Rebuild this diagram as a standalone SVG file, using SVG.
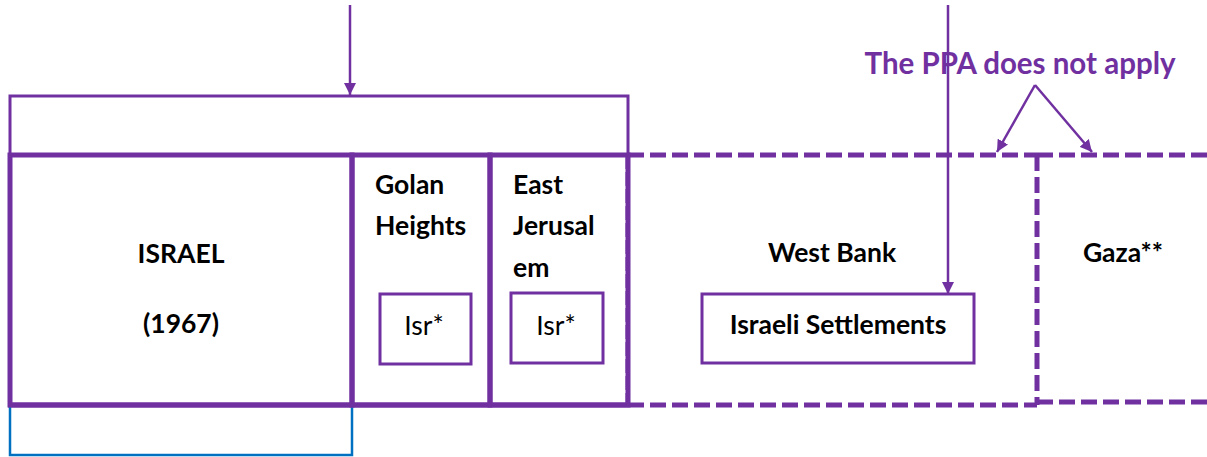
<svg xmlns="http://www.w3.org/2000/svg" width="1207" height="457" viewBox="0 0 1207 457">
  <defs>
    <marker id="arrowhead" markerWidth="12" markerHeight="12" refX="10" refY="5" orient="auto" markerUnits="userSpaceOnUse" viewBox="0 0 10 10">
      <path d="M0,0 L10,5 L0,10 Z" fill="#7030A0"/>
    </marker>
    <style>
      .solid { fill: none; stroke: #7030A0; stroke-width: 5; }
      .thin { fill: none; stroke: #7030A0; stroke-width: 3; }
      .dash { fill: none; stroke: #7030A0; stroke-width: 5; stroke-dasharray: 16 6; }
      .dash-v { fill: none; stroke: #7030A0; stroke-width: 3; stroke-dasharray: 14 3; }
      .conn { fill: none; stroke: #7030A0; stroke-width: 2.5; marker-end: url(#arrowhead); }
      .lbl { font-family: Lato, "Liberation Sans", sans-serif; font-weight: bold; font-size: 26.5px; fill: #000; }
      .reg { font-family: Lato, "Liberation Sans", sans-serif; font-size: 26.5px; fill: #000; }
      .note { font-family: Lato, "Liberation Sans", sans-serif; font-weight: bold; font-size: 29.5px; fill: #7030A0; }
    </style>
  </defs>
  <rect width="1207" height="457" fill="#fff"/>

  <!-- bracket spanning Israel, Golan and East Jerusalem -->
  <g id="bracket">
    <rect x="10" y="96" width="618" height="59" class="thin"/>
  </g>

  <!-- pre-1967 Israel -->
  <g id="israel">
    <rect x="10" y="155" width="342" height="250" class="solid"/>
    <text x="181" y="263" text-anchor="middle" class="lbl">ISRAEL</text>
    <text x="181" y="333" text-anchor="middle" class="lbl">(1967)</text>
  </g>

  <!-- box below Israel -->
  <g id="israel-below">
    <rect x="10" y="405" width="342" height="50" fill="none" stroke="#0070C0" stroke-width="2.5"/>
    <line x1="8" y1="405" x2="628" y2="405" class="solid"/>
  </g>

  <!-- Golan Heights -->
  <g id="golan">
    <rect x="352" y="155" width="138" height="250" class="solid"/>
    <text x="375" y="194" class="lbl">Golan</text>
    <text x="375" y="235" class="lbl">Heights</text>
    <rect x="380" y="294" width="91" height="70" class="thin"/>
    <text x="424" y="335" text-anchor="middle" class="reg">Isr*</text>
  </g>

  <!-- East Jerusalem -->
  <g id="east-jerusalem">
    <rect x="490" y="155" width="138" height="250" class="solid"/>
    <text x="513" y="194" class="lbl">East</text>
    <text x="513" y="235" class="lbl">Jerusal</text>
    <text x="513" y="277" class="lbl">em</text>
    <rect x="511" y="293" width="92" height="70" class="thin"/>
    <text x="556" y="335" text-anchor="middle" class="reg">Isr*</text>
  </g>

  <!-- West Bank -->
  <g id="west-bank">
    <line x1="628" y1="155" x2="1037" y2="155" class="dash"/>
    <line x1="628" y1="405" x2="1037" y2="405" class="dash"/>
    <line x1="627" y1="155" x2="627" y2="405" class="dash-v"/>
    <text x="832" y="262" text-anchor="middle" class="lbl">West Bank</text>
    <rect x="702" y="294" width="272" height="69" class="thin"/>
    <text x="838" y="334" text-anchor="middle" class="lbl">Israeli Settlements</text>
  </g>

  <!-- Gaza -->
  <g id="gaza">
    <line x1="1037" y1="155" x2="1207" y2="155" class="dash"/>
    <line x1="1037" y1="402" x2="1207" y2="402" class="dash"/>
    <line x1="1037" y1="155" x2="1037" y2="405" class="dash" stroke-dasharray="13 4"/>
    <text x="1123" y="262" text-anchor="middle" class="lbl">Gaza**</text>
  </g>

  <!-- annotation -->
  <g id="ppa-note">
    <text x="1020" y="74" text-anchor="middle" class="note">The PPA does not apply</text>
  </g>

  <!-- connectors -->
  <g id="connectors">
    <line x1="350" y1="5" x2="350" y2="95" class="conn"/>
    <line x1="948" y1="5" x2="948" y2="294" class="conn"/>
    <line x1="1035" y1="85" x2="997" y2="152" class="conn"/>
    <line x1="1035" y1="85" x2="1092" y2="152" class="conn"/>
  </g>
</svg>
